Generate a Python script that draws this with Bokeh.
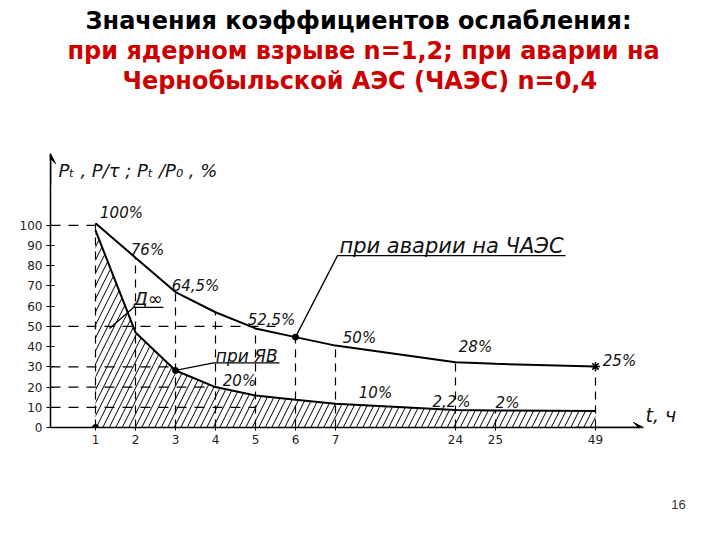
from bokeh.plotting import figure
from bokeh.models import (Range1d, FixedTicker, Label, Arrow, VeeHead, LinearAxis, Title)
from bokeh.embed import file_html
from bokeh.resources import INLINE

# ---- data ----
t_labels = ["1", "2", "3", "4", "5", "6", "7", "24", "25", "49"]
t_hours = [1, 2, 3, 4, 5, 6, 7, 24, 25, 49]
# broken time axis: slot on the drawn axis for each hour
axis_slot = [1, 2, 3, 4, 5, 6, 7, 10, 11, 13.5]
# drawn curve at the Chernobyl accident (n = 0.4), %
chaes_curve = [101, 84, 67, 57, 49, 44.7, 40.5, 32.3, 31.5, 30.2]
# drawn curve at a nuclear explosion (n = 1.2), %
yav_curve = [97.5, 47, 28.2, 20, 15.8, 13.7, 11.8, 8.7, 8.4, 8.1]
y_ticks = [0, 10, 20, 30, 40, 50, 60, 70, 80, 90, 100]
# horizontal dashed guides: level (%) and the hour they reach
guide_levels = [100, 50, 30, 20, 10]
guide_to_hour = [1, 5.5, 3, 4, 5]
# point annotations: text, hour-slot, level
note_texts = ["100%", "76%", "64,5%", "52,5%", "50%", "28%", "25%",
              "20%", "10%", "2,2%", "2%"]
note_slot = [1.65, 2.3, 3.5, 5.4, 7.6, 10.5, 14.1, 4.6, 8.0, 9.9, 11.3]
note_level = [106, 88, 70, 53, 44.5, 40, 33, 23, 17, 12.5, 12]

title_lines = ["Значения коэффициентов ослабления:",
               "при ядерном взрыве n=1,2; при аварии на",
               "Чернобыльской АЭС (ЧАЭС) n=0,4"]
title_colors = ["#000000", "#CC0000", "#CC0000"]
title_indent = [35, 17, 72]
slide_number = "16"

slot_of = dict(zip(t_hours, axis_slot))


def slot_for(h):
    # guide hours fall within 1..7 where slot == hour
    return slot_of.get(h, h)


p = figure(width=704, height=524, output_backend="svg", toolbar_location=None,
           x_range=Range1d(-0.125, 15.575), y_range=Range1d(0, 136),
           min_border_left=50, min_border_right=26, min_border_top=152,
           min_border_bottom=97, x_axis_location=None, y_axis_location=None)
p.title = None
p.grid.visible = False
p.outline_line_color = None
p.background_fill_color = "white"
p.border_fill_color = "white"

hand = "DejaVu Sans"
ink = "#111111"

xaxis = LinearAxis(ticker=FixedTicker(ticks=axis_slot),
                   major_label_overrides={s: l for s, l in zip(axis_slot, t_labels)},
                   bounds=(-0.125, 14.6))
xaxis.major_tick_in = 3
xaxis.major_tick_out = 3
xaxis.minor_tick_line_color = None
xaxis.axis_line_width = 1.5
xaxis.major_label_text_font = hand
xaxis.major_label_text_font_size = "12px"
xaxis.major_label_text_color = "#222222"
xaxis.major_label_standoff = 4
# slide number carried by the bottom axis label
xaxis.axis_label = slide_number
xaxis.axis_label_align = "end"
xaxis.axis_label_standoff = 53
xaxis.axis_label_text_font = "Liberation Sans"
xaxis.axis_label_text_font_style = "normal"
xaxis.axis_label_text_font_size = "13px"
xaxis.axis_label_text_color = "#333333"
p.add_layout(xaxis, "below")

yaxis = LinearAxis(ticker=FixedTicker(ticks=y_ticks), bounds=(0, 135))
yaxis.major_tick_in = 4
yaxis.major_tick_out = 4
yaxis.minor_tick_line_color = None
yaxis.axis_line_width = 1.5
yaxis.major_label_text_font = hand
yaxis.major_label_text_font_size = "12px"
yaxis.major_label_text_color = "#222222"
yaxis.major_label_standoff = 4
p.add_layout(yaxis, "left")

# spacer between the slide title and the plot area
p.add_layout(Title(text=" ", text_font_size="10px", text_line_height=0.7, standoff=45), "above")
# slide title (first added sits closest to the plot)
for i in (2, 1, 0):
    t = Title(text=title_lines[i], text_font="DejaVu Sans", text_font_style="bold",
              text_font_size="24px", text_color=title_colors[i], align="left",
              offset=title_indent[i], standoff=0, text_line_height=0.7)
    p.add_layout(t, "above")

# axis arrows
p.add_layout(Arrow(end=VeeHead(size=10, fill_color="black"), x_start=-0.125, y_start=120,
                   x_end=-0.125, y_end=135.5, line_width=1.5))
p.add_layout(Arrow(end=VeeHead(size=10, fill_color="black"), x_start=13, y_start=0,
                   x_end=14.7, y_end=0, line_width=1.5))

# hatched area under the nuclear explosion curve
p.varea(x=axis_slot, y1=[0] * len(axis_slot), y2=yav_curve, fill_alpha=0,
        hatch_pattern="/", hatch_color="black", hatch_scale=13, hatch_weight=1)

# vertical dashed guides
v_top = [yv if h == 25 else cv for h, cv, yv in zip(t_hours, chaes_curve, yav_curve)]
p.segment(x0=axis_slot, y0=[0] * len(axis_slot), x1=axis_slot, y1=v_top,
          line_color="black", line_width=1.2, line_dash="8 6")

# horizontal dashed guides
p.segment(x0=[-0.125] * len(guide_levels), y0=guide_levels,
          x1=[slot_for(h) for h in guide_to_hour], y1=guide_levels,
          line_color="black", line_width=1.2, line_dash="10 8")

# curves
p.line(axis_slot, chaes_curve, line_color="black", line_width=2)
p.line(axis_slot, yav_curve, line_color="black", line_width=2)

# marked points
p.scatter([axis_slot[0], axis_slot[2], axis_slot[5]], [0, yav_curve[2], chaes_curve[5]],
          size=6, color="black")
p.scatter([axis_slot[-1]], [chaes_curve[-1]], marker="asterisk", size=9,
          line_color="black", line_width=1.5)

# leader lines for captions
p.line([axis_slot[5], 7.05, 12.75], [chaes_curve[5], 85, 85], line_color="black", line_width=1.3)
p.line([axis_slot[2], 3.95, 5.6], [yav_curve[2], 32, 32], line_color="black", line_width=1.3)
p.line([1.35, 1.95, 2.7], [49, 59.4, 59.4], line_color="black", line_width=1.3)

# captions
p.add_layout(Label(x=9.9, y=90, text="при аварии на ЧАЭС", text_font=hand,
                   text_font_style="italic", text_font_size="21px", text_color=ink,
                   text_align="center", text_baseline="middle"))
p.add_layout(Label(x=4.78, y=35.5, text="при ЯВ", text_font=hand,
                   text_font_style="italic", text_font_size="17px", text_color=ink,
                   text_align="center", text_baseline="middle"))
p.add_layout(Label(x=2.32, y=64, text="Д∞", text_font=hand,
                   text_font_style="italic", text_font_size="18px", text_color=ink,
                   text_align="center", text_baseline="middle"))

for txt, sx, lv in zip(note_texts, note_slot, note_level):
    p.add_layout(Label(x=sx, y=lv, text=txt, text_font=hand, text_font_style="italic",
                       text_font_size="15px", text_color=ink, text_align="center",
                       text_baseline="middle"))

# axis names
p.add_layout(Label(x=0.075, y=127, text="Pₜ , P/τ ; Pₜ /P₀ , %", text_font=hand,
                   text_font_style="italic", text_font_size="18px", text_color=ink,
                   text_align="left", text_baseline="middle"))
p.add_layout(Label(x=14.75, y=6, text="t, ч", text_font=hand,
                   text_font_style="italic", text_font_size="19px", text_color=ink,
                   text_align="left", text_baseline="middle"))

open("out.html", "w").write(file_html(p, INLINE))
